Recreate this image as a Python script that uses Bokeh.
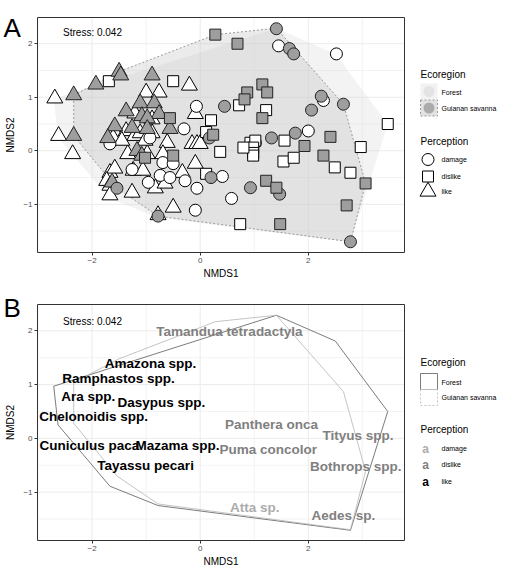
from bokeh.plotting import figure
from bokeh.layouts import column
from bokeh.models import Range1d, FixedTicker, LinearAxis
from bokeh.core.properties import value
from bokeh.embed import file_html
from bokeh.resources import INLINE

FONT = "Liberation Sans"

# ---------------- data: panel A (site scores) ----------------
forest_like_x = [-2.69, -2.62, -2.36, -1.00, -0.76, -1.21, -0.20, -0.09, -0.89, -1.63, -1.54, -1.37,
                 -1.21, -1.11, -0.89, -0.61, -1.61, -1.34, -0.98, -1.67, -1.58, -1.73, -1.67, -1.67,
                 -1.26, -1.24, -1.06, -0.83, -0.65, -0.33, -0.78, -0.50, -0.69, -0.15, -0.09, -0.06,
                 0.00, -1.45, -1.02]
forest_like_y = [0.98, 0.28, -0.06, 1.09, 1.09, 0.70, 1.22, 0.69, 0.59, 0.37, 0.28, 0.37,
                 0.28, 0.33, 0.33, 0.15, 0.24, -0.06, -0.06, -0.41, -0.33, -0.56, -0.65, -0.83,
                 -0.78, -0.37, -0.37, -0.70, -0.61, -0.41, -1.20, -1.06, -0.06, 0.13, -0.24, 0.13,
                 0.13, 0.19, 0.19]

savanna_like_x = [-2.34, -1.93, -1.50, -1.47, -0.89, -2.34, -1.11, -0.85, -1.37, -0.76, -1.08, -0.98,
                  -1.58, -1.71, -1.26, -0.98, -0.56, -1.17, -1.08, -1.63]
savanna_like_y = [1.04, 1.24, 1.48, 1.41, 1.41, 0.28, 0.89, 0.89, 0.74, 0.69, 0.65, 0.61,
                  0.46, 0.24, 0.43, 0.41, 0.41, 0.00, -0.09, -0.59]

forest_damage_x = [1.45, 2.52, 2.28, 2.00, -0.07, -0.30, -0.93, -1.67, -1.26, -0.96, -0.74, -0.56,
                   -0.28, -0.06, -0.69, -0.50, 0.41, 0.58, -0.09, 1.02]
forest_damage_y = [1.96, 1.81, 0.94, 0.37, 0.83, 0.41, 0.24, 0.13, -0.35, -0.59, -0.46, -0.50,
                   -0.56, -0.70, -0.22, -0.24, -0.48, -0.89, -1.11, 0.15]

savanna_damage_x = [1.41, 1.65, 1.73, 0.45, 0.17, 2.24, 2.65, 2.06, 1.76, 1.32, 0.20, 0.93,
                    1.47, 2.78, -1.54, -0.78]
savanna_damage_y = [2.28, 1.91, 1.81, 0.83, 0.24, 1.02, 0.87, 0.76, 0.33, 0.24, -0.50, -0.69,
                    -0.81, -1.70, -0.70, -1.22]

forest_dislike_x = [-1.69, -0.50, 0.72, 1.22, 0.20, 0.11, 1.56, 2.97, 0.93, 1.02, 0.98, 0.98,
                    0.98, 0.80, 0.37, 1.54, 1.73, 2.49, 2.78, 3.47, 0.11, 0.74]
forest_dislike_y = [1.30, 1.30, 0.85, 0.76, 0.57, 0.35, 0.19, 0.07, 0.15, 0.19, 0.06, -0.04,
                    -0.09, 0.06, -0.02, -0.20, -0.13, -0.31, -0.41, 0.50, -0.43, -1.37]

savanna_dislike_x = [0.28, 0.69, 1.15, 1.24, 0.87, 0.82, 1.15, 0.24, 2.41, 1.93, 2.28, 3.06,
                     1.22, 1.41, 2.71, 1.48, -0.56, -1.02, -0.50]
savanna_dislike_y = [2.17, 2.00, 1.24, 1.09, 1.09, 0.96, 0.61, 0.30, 0.26, 0.09, -0.09, -0.61,
                     -0.56, -0.69, -1.02, -1.37, 0.61, -0.13, -0.09]

# convex hulls of the two ecoregions
forest_hull_x = [-2.71, 1.41, 2.50, 3.47, 2.78, -0.78, -1.67, -2.63]
forest_hull_y = [0.97, 2.29, 1.81, 0.50, -1.71, -1.25, -0.89, 0.25]
savanna_hull_x = [-2.34, -1.50, 0.28, 1.41, 2.65, 3.06, 2.78, -0.78, -1.54, -2.34]
savanna_hull_y = [1.04, 1.48, 2.17, 2.29, 0.87, -0.61, -1.70, -1.22, -0.70, 0.28]

# ---------------- data: panel B (species scores) ----------------
species = ["Tamandua tetradactyla", "Amazona spp.", "Ramphastos spp.", "Ara spp.", "Dasypus spp.",
           "Chelonoidis spp.", "Cuniculus paca", "Mazama spp.", "Tayassu pecari", "Panthera onca",
           "Puma concolor", "Tityus spp.", "Bothrops spp.", "Atta sp.", "Aedes sp."]
species_x = [0.54, -0.92, -1.51, -2.07, -0.72, -1.97, -2.05, -0.42, -1.01, 1.32, 1.26, 2.92, 2.88, 1.01, 2.65]
species_y = [1.99, 1.40, 1.12, 0.77, 0.67, 0.40, -0.14, -0.14, -0.50, 0.25, -0.20, 0.06, -0.52, -1.28, -1.43]
species_perception = ["dislike", "like", "like", "like", "like", "like", "like", "like", "like",
                      "dislike", "dislike", "dislike", "dislike", "damage", "dislike"]

perception_levels = ["damage", "dislike", "like"]
ecoregion_levels = ["Forest", "Guianan savanna"]
x_ticks = [-2, 0, 2]
x_minor = [-3, -1, 1, 3]
y_ticks = [-1, 0, 1, 2]
y_minor = [-1.5, -0.5, 0.5, 1.5]
stress_text = "Stress: 0.042"

X_RANGE = (-3.01, 3.78)
Y_RANGE = (-1.90, 2.49)

text_colors = {"damage": "#ABABAB", "dislike": "#808080", "like": "#000000"}

# ---------------- layout (page pixels) ----------------
PAGE = 0                      # Bokeh's page template has no body margin
FIG_W = 510
PANEL_L, PANEL_R = 37, 404    # panel frame, page x
SX = (PANEL_R - PANEL_L) / (X_RANGE[1] - X_RANGE[0])


def make_panel(fig_top, fig_h, panel_top, panel_bottom):
    sy = (panel_bottom - panel_top) / (Y_RANGE[1] - Y_RANGE[0])
    x0 = X_RANGE[0] - (PANEL_L - PAGE) / SX
    x1 = X_RANGE[0] + (PAGE + FIG_W - PANEL_L) / SX
    y1 = Y_RANGE[1] + (panel_top - fig_top) / sy
    y0 = Y_RANGE[1] - (fig_top + fig_h - panel_top) / sy
    p = figure(width=FIG_W, height=fig_h, x_range=Range1d(x0, x1), y_range=Range1d(y0, y1),
               x_axis_type=None, y_axis_type=None, min_border=0,
               output_backend="svg", toolbar_location=None, tools="")
    p.outline_line_color = None
    p.background_fill_color = "white"
    p.border_fill_color = "white"

    def px(xp):
        return X_RANGE[0] + (xp - PANEL_L) / SX

    def py(yp):
        return Y_RANGE[1] - (yp - panel_top) / sy

    # grid (theme_bw look)
    p.segment(x0=x_minor, x1=x_minor, y0=[Y_RANGE[0]] * len(x_minor), y1=[Y_RANGE[1]] * len(x_minor),
              line_color="#F3F3F3", line_width=1)
    p.segment(x0=[X_RANGE[0]] * len(y_minor), x1=[X_RANGE[1]] * len(y_minor), y0=y_minor, y1=y_minor,
              line_color="#F3F3F3", line_width=1)
    p.segment(x0=x_ticks, x1=x_ticks, y0=[Y_RANGE[0]] * len(x_ticks), y1=[Y_RANGE[1]] * len(x_ticks),
              line_color="#EBEBEB", line_width=1)
    p.segment(x0=[X_RANGE[0]] * len(y_ticks), x1=[X_RANGE[1]] * len(y_ticks), y0=y_ticks, y1=y_ticks,
              line_color="#EBEBEB", line_width=1)

    overrides = {t: (("\u2212" + str(abs(t))) if t < 0 else str(t)) for t in set(x_ticks + y_ticks)}
    yax = LinearAxis(fixed_location=X_RANGE[0], bounds=Y_RANGE, ticker=FixedTicker(ticks=y_ticks),
                     axis_label="NMDS2")
    xax = LinearAxis(fixed_location=Y_RANGE[0], bounds=X_RANGE, ticker=FixedTicker(ticks=x_ticks),
                     axis_label="NMDS1")
    for ax in (xax, yax):
        ax.axis_line_color = None
        ax.major_tick_line_color = "#333333"
        ax.major_tick_out = 3
        ax.major_tick_in = 0
        ax.minor_tick_line_color = None
        ax.major_label_text_font = FONT
        ax.major_label_text_font_size = "8px"
        ax.major_label_text_color = "#4D4D4D"
        ax.major_label_standoff = 2
        ax.axis_label_text_font = FONT
        ax.axis_label_text_font_size = "10px"
        ax.axis_label_text_font_style = "normal"
        ax.axis_label_text_color = "black"
        ax.major_label_overrides = overrides
    xax.axis_label_standoff = 2
    yax.axis_label_standoff = 4
    p.add_layout(yax, "left")
    p.add_layout(xax, "below")
    return p, px, py, sy


def add_border(p):
    p.quad(left=[X_RANGE[0]], right=[X_RANGE[1]], bottom=[Y_RANGE[0]], top=[Y_RANGE[1]],
           fill_color=None, line_color="#333333", line_width=1)


def ltext(p, x, y, t, size, color="black", style="normal", align="left", baseline="middle"):
    p.text(x=[x], y=[y], text=[t], text_font=value(FONT), text_font_size=size, text_color=color,
           text_align=align, text_baseline=baseline, text_font_style=style)


# ================= Panel A =================
pA, pxA, pyA, syA = make_panel(0, 280, 17, 252)
pA.patch(forest_hull_x, forest_hull_y, fill_color="#D6D6D6", fill_alpha=0.3, line_color=None)
pA.patch(savanna_hull_x, savanna_hull_y, fill_color="#BDBDBD", fill_alpha=0.3,
         line_color="#9A9A9A", line_dash="2 2", line_width=1)

WHITE = "#FFFFFF"
GREY = "#9E9E9E"
TRI = 16
pA.scatter(forest_like_x, forest_like_y, marker="triangle", size=TRI, fill_color=WHITE, line_color="black", line_width=1)
pA.scatter(forest_damage_x, forest_damage_y, marker="circle", size=12, fill_color=WHITE, line_color="black", line_width=1)
pA.scatter(forest_dislike_x, forest_dislike_y, marker="square", size=11, fill_color=WHITE, line_color="black", line_width=1)
pA.scatter(savanna_like_x, savanna_like_y, marker="triangle", size=TRI, fill_color=GREY, line_color="#222222", line_width=1)
pA.scatter(savanna_damage_x, savanna_damage_y, marker="circle", size=12, fill_color=GREY, line_color="#222222", line_width=1)
pA.scatter(savanna_dislike_x, savanna_dislike_y, marker="square", size=11, fill_color=GREY, line_color="#222222", line_width=1)
add_border(pA)

ltext(pA, pxA(92), pyA(32), stress_text, "10px", align="center")
ltext(pA, pxA(3), pyA(27), "A", "26px", baseline="alphabetic")

# legend A
ltext(pA, pxA(420), pyA(74), "Ecoregion", "10px")
pA.rect(x=[pxA(428.5)], y=[pyA(91)], width=17 / SX, height=16 / syA, fill_color="#F2F2F2", line_color=None)
pA.scatter(x=[pxA(428.5)], y=[pyA(91)], marker="circle", size=11, fill_color="#E3E3E3", line_color=None)
pA.rect(x=[pxA(428.5)], y=[pyA(107.5)], width=17 / SX, height=16 / syA, fill_color="#E2E2E2",
        line_color="#9A9A9A", line_dash="2 2")
pA.scatter(x=[pxA(428.5)], y=[pyA(107.5)], marker="circle", size=11, fill_color="#ABABAB", line_color=None)
ltext(pA, pxA(441), pyA(92), ecoregion_levels[0], "7px")
ltext(pA, pxA(441), pyA(108), ecoregion_levels[1], "7px")
ltext(pA, pxA(420), pyA(141), "Perception", "10px")
for yy, mk, sz, lab in [(159, "circle", 12, perception_levels[0]), (176, "square", 11, perception_levels[1]),
                        (191, "triangle", TRI, perception_levels[2])]:
    pA.scatter(x=[pxA(427.5)], y=[pyA(yy)], marker=mk, size=sz, fill_color="white", line_color="black", line_width=1)
    ltext(pA, pxA(441), pyA(yy), lab, "7px")

# ================= Panel B =================
pB, pxB, pyB, syB = make_panel(280, 286, 304, 540)
pB.patch(forest_hull_x, forest_hull_y, fill_alpha=0, line_color="#5A5A5A", line_width=0.8)
pB.patch(savanna_hull_x, savanna_hull_y, fill_alpha=0, line_color="#B5B5B5", line_width=0.8)
pB.text(x=species_x, y=species_y, text=species, text_font=value(FONT), text_font_size="13.5px",
        text_font_style="bold", text_align="center", text_baseline="middle",
        text_color=[text_colors[c] for c in species_perception])
add_border(pB)
ltext(pB, pxB(92), pyB(321), stress_text, "10px", align="center")
ltext(pB, pxB(3), pyB(307), "B", "26px", baseline="alphabetic")

ltext(pB, pxB(420), pyB(362), "Ecoregion", "10px")
pB.rect(x=[pxB(428.5)], y=[pyB(381)], width=17 / SX, height=16 / syB, fill_color="white",
        line_color="#5A5A5A", line_width=0.8)
pB.rect(x=[pxB(428.5)], y=[pyB(397)], width=17 / SX, height=16 / syB, fill_color="white",
        line_color="#B5B5B5", line_width=0.8, line_dash="2 2")
ltext(pB, pxB(441), pyB(382), ecoregion_levels[0], "7px")
ltext(pB, pxB(441), pyB(397), ecoregion_levels[1], "7px")
ltext(pB, pxB(420), pyB(429), "Perception", "10px")
for yy, lab in [(448, perception_levels[0]), (464, perception_levels[1]), (481, perception_levels[2])]:
    ltext(pB, pxB(425), pyB(yy), "a", "12px", color=text_colors[lab], style="bold", align="center")
    ltext(pB, pxB(441), pyB(yy), lab, "7px")

layout = column(pA, pB)
open("out.html", "w").write(file_html(layout, INLINE))
